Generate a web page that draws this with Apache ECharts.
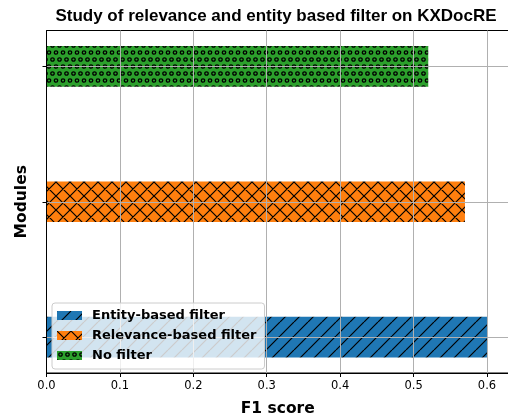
<!DOCTYPE html>
<html>
<head>
<meta charset="utf-8">
<script src="https://cdn.jsdelivr.net/npm/echarts@6/dist/echarts.min.js"></script>
<style>html,body{margin:0;padding:0;background:#fff}#chart{width:508px;height:418px}</style>
</head>
<body>
<div id="chart"></div>
<script>
// ---- data ----
const modules = ['Entity-based filter', 'Relevance-based filter', 'No filter'];
const f1Scores = [0.60, 0.57, 0.52];
const modulePositions = [0, 1, 2];
const xTicks = [0.0, 0.1, 0.2, 0.3, 0.4, 0.5, 0.6];
const title = 'Study of relevance and entity based filter on KXDocRE';
const xName = 'F1 score';
const yName = 'Modules';

// ---- styling ----
const BAR_H = 0.3;
const colors = ['#1f77b4', '#ff7f0e', '#2ca02c'];
const hatches = ['/', 'x', 'o'];

function makePattern(color, hatch) {
  const c = document.createElement('canvas');
  let W = 14, H = 14;
  if (hatch === 'o') { W = 7; H = 14; }
  c.width = W; c.height = H;
  const g = c.getContext('2d');
  g.fillStyle = color; g.fillRect(0, 0, W, H);
  g.strokeStyle = '#000'; g.lineWidth = 1.2;
  if (hatch === '/' || hatch === 'x') {
    g.beginPath();
    for (let k = -1; k <= 1; k++) {
      g.moveTo(k * W, H); g.lineTo(k * W + W, 0);
    }
    if (hatch === 'x') {
      for (let k = -1; k <= 1; k++) {
        g.moveTo(k * W, 0); g.lineTo(k * W + W, H);
      }
    }
    g.stroke();
  } else if (hatch === 'o') {
    g.lineWidth = 1.3;
    const pts = [[3.5, 3.5], [0, 10.5], [7, 10.5]];
    pts.forEach(p => { g.beginPath(); g.arc(p[0], p[1], 1.7, 0, Math.PI * 2); g.stroke(); });
  }
  return { image: c, repeat: 'repeat' };
}
const patterns = colors.map((c, i) => makePattern(c, hatches[i]));

const chart = echarts.init(document.getElementById('chart'), null, { renderer: 'canvas' });

const series = modules.map((name, i) => ({
  name: name,
  type: 'custom',
  z: 2,
  itemStyle: { color: patterns[i] },
  encode: { x: 0, y: 1 },
  data: [[f1Scores[i], modulePositions[i]]],
  renderItem: function (params, api) {
    const v = api.value(0), y = api.value(1);
    const p0 = api.coord([0, y + BAR_H / 2]);
    const p1 = api.coord([v, y - BAR_H / 2]);
    return {
      type: 'rect',
      shape: { x: p0[0], y: p0[1], width: p1[0] - p0[0], height: p1[1] - p0[1] },
      style: { fill: patterns[i] }
    };
  }
}));

chart.setOption({
  animation: false,
  backgroundColor: '#fff',
  title: {
    text: title,
    left: 271,
    top: 3,
    textAlign: 'center',
    textStyle: { fontFamily: 'Liberation Sans', fontWeight: 'bold', fontSize: 17, color: '#000' }
  },
  grid: {
    left: 46.5, top: 30.5, right: -1, bottom: 45,
    outerBoundsMode: 'none',
    containLabel: false,
    show: true, borderColor: '#000', borderWidth: 1, backgroundColor: 'transparent'
  },
  legend: {
    orient: 'vertical',
    left: 52, top: 303,
    z: 4,
    padding: [5, 8, 6, 5],
    itemWidth: 25, itemHeight: 9, itemGap: 5,
    backgroundColor: 'rgba(255,255,255,0.8)',
    borderColor: '#cccccc', borderWidth: 1, borderRadius: 3,
    icon: 'rect',
    data: modules.map((m, i) => ({ name: m, itemStyle: { color: patterns[i] } })),
    textStyle: { fontFamily: 'DejaVu Sans', fontWeight: 'bold', fontSize: 13, color: '#000', lineHeight: 15, padding: [0, 0, 0, 5] }
  },
  xAxis: {
    type: 'value',
    min: 0, max: 0.63, interval: 0.1,
    z: 3,
    name: xName,
    nameLocation: 'middle',
    nameGap: 28,
    nameTextStyle: { fontFamily: 'DejaVu Sans', fontWeight: 'bold', fontSize: 15.5, color: '#000' },
    axisLine: { show: true, onZero: false, lineStyle: { color: '#000', width: 1 } },
    axisTick: { show: true, inside: false, length: 4, lineStyle: { color: '#000' } },
    axisLabel: {
      margin: 7, fontFamily: 'DejaVu Sans', fontSize: 11.5, color: '#000',
      showMaxLabel: false,
      formatter: v => (xTicks.some(t => Math.abs(t - v) < 1e-6) ? v.toFixed(1) : '')
    },
    splitLine: { show: true, lineStyle: { color: '#b0b0b0', width: 1 } }
  },
  yAxis: {
    type: 'value',
    min: -0.265, max: 2.265,
    z: 3,
    name: yName,
    nameLocation: 'middle',
    nameGap: 17,
    nameRotate: 90,
    nameTextStyle: { fontFamily: 'DejaVu Sans', fontWeight: 'bold', fontSize: 15.5, color: '#000' },
    axisLine: { show: true, onZero: false, lineStyle: { color: '#000', width: 1 } },
    axisTick: { show: true, length: 4, customValues: modulePositions, lineStyle: { color: '#000' } },
    axisLabel: { show: false },
    splitLine: { show: true, lineStyle: { color: '#b0b0b0', width: 1 } }
  },
  series: series
});
</script>
</body>
</html>
